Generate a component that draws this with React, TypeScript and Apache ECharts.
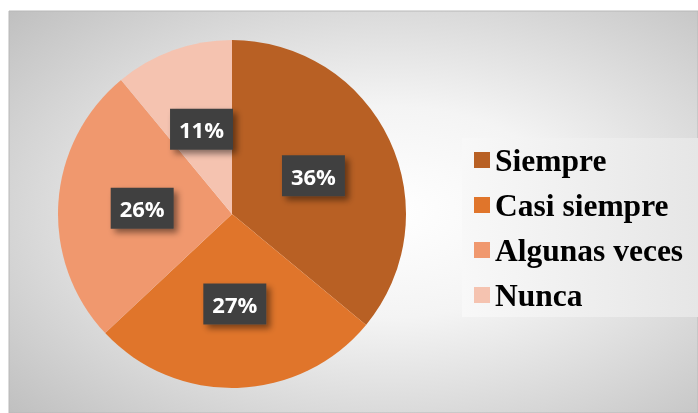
import React, { useEffect, useRef } from "react";
import * as echarts from "echarts";

const categories = ["Siempre", "Casi siempre", "Algunas veces", "Nunca"];
const values = [36, 27, 26, 11];
const colors = ["#B86024", "#E0752B", "#F0986E", "#F5C3B0"];

export default function App() {
  const ref = useRef<HTMLDivElement>(null);
  useEffect(() => {
    const chart = echarts.init(ref.current!, null, { renderer: "svg" });
    chart.setOption({
      animation: false,
      graphic: [
        {
          type: "rect",
          z: -10,
          silent: true,
          shape: { x: 9, y: 11, width: 689, height: 402 },
          style: {
            fill: new echarts.graphic.RadialGradient(0.55, 0.5, 0.75, [
              { offset: 0, color: "#ffffff" },
              { offset: 0.35, color: "#f4f4f4" },
              { offset: 1, color: "#bfbfbf" },
            ]),
            stroke: "#b8b8b8",
            lineWidth: 1,
          },
        },
        {
          type: "rect",
          z: -5,
          silent: true,
          shape: { x: 462, y: 138, width: 236, height: 179 },
          style: {
            fill: new echarts.graphic.LinearGradient(0, 0, 1, 0, [
              { offset: 0, color: "#f8f8f8" },
              { offset: 1, color: "#e6e6e6" },
            ]),
          },
        },
      ],
      legend: {
        orient: "vertical",
        left: 462,
        top: 138,
        padding: [6, 10, 8, 12],
        itemWidth: 16,
        itemHeight: 16,
        itemGap: 13,
        icon: "rect",
        data: categories,
        textStyle: {
          fontFamily: "Liberation Serif",
          fontWeight: "bold",
          fontSize: 31.5,
          lineHeight: 30,
          color: "#000",
        },
      },
      series: [
        {
          type: "pie",
          center: [232, 214],
          radius: [0, 174],
          startAngle: 90,
          clockwise: true,
          data: categories.map((c, i) => ({
            name: c,
            value: values[i],
            itemStyle: { color: colors[i] },
          })),
          label: {
            show: true,
            position: "inside",
            formatter: "{d}%",
            color: "#fff",
            fontFamily: "Open Sans",
            fontWeight: "bold",
            fontSize: 22,
            lineHeight: 25,
            backgroundColor: "#404040",
            padding: [8, 9],
            shadowBlur: 6,
            shadowOffsetX: 4,
            shadowOffsetY: 4,
            shadowColor: "rgba(0,0,0,0.45)",
          },
          labelLine: { show: false },
          emphasis: { disabled: true },
        },
      ],
    });
    return () => chart.dispose();
  }, []);
  return (
    <div
      ref={ref}
      style={{ position: "fixed", left: 0, top: 0, width: 698, height: 413 }}
    />
  );
}
